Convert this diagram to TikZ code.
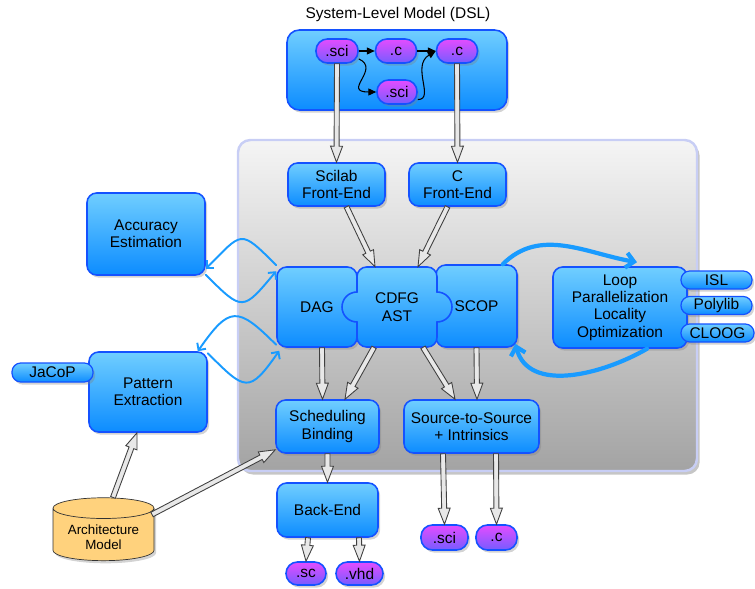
\documentclass[tikz,border=0pt]{standalone}
\usepackage{fontspec}
\setmainfont{Liberation Sans}
\usepackage{tikz}
\usetikzlibrary{shapes.geometric, arrows.meta, calc, shadows}

\definecolor{boxtop}{RGB}{112,206,255}
\definecolor{boxbot}{RGB}{12,140,255}
\definecolor{boxline}{RGB}{20,82,255}
\definecolor{pilltop}{RGB}{228,76,255}
\definecolor{pillbot}{RGB}{118,92,255}
\definecolor{panelline}{RGB}{200,206,245}
\definecolor{archfill}{RGB}{255,210,125}
\definecolor{curveblue}{RGB}{25,155,255}

\tikzset{
  block/.style={rectangle, draw=boxline, line width=0.9pt, top color=boxtop,
                bottom color=boxbot, rounded corners=5.5pt, align=center,
                font=\fontsize{8.8}{9.9}\selectfont, inner sep=1pt,
                drop shadow={opacity=0.35, shadow xshift=1.2pt, shadow yshift=-1.5pt}},
  piece/.style={draw=boxline, line width=0.9pt, top color=boxtop, bottom color=boxbot},
  pill/.style={block, top color=pilltop, bottom color=pillbot,
               rounded corners=6.5pt, minimum height=0.48cm},
  tab/.style={block, rounded corners=5pt, minimum height=0.36cm,
              line width=0.7pt, inner sep=0.5pt},
  garrow/.style={draw=black!75, fill=gray!18, line width=0.5pt, line join=miter},
  flow/.style={-{Triangle[length=4.5pt, width=4pt]}, line width=0.6pt, black},
  loopback/.style={-{Straight Barb[length=3pt, width=6pt]}, draw=curveblue,
                   line width=1.1pt, line cap=round},
  loopbackB/.style={-{Straight Barb[length=4.5pt, width=8.5pt]}, draw=curveblue,
                    line width=2.4pt, line cap=round},
}

% hollow gray connector, one outline from #1 to #2
\newcommand\hollowarrow[2]{%
  \coordinate (ha-s) at (#1);
  \coordinate (ha-e) at (#2);
  \coordinate (ha-b) at ($(ha-e)!0.32cm!(ha-s)$);
  \path[garrow] ($(ha-s)!0.05cm!90:(ha-e)$) -- ($(ha-b)!0.05cm!-90:(ha-s)$)
    -- ($(ha-b)!0.12cm!-90:(ha-s)$) -- (ha-e)
    -- ($(ha-b)!0.12cm!90:(ha-s)$) -- ($(ha-b)!0.05cm!90:(ha-s)$)
    -- ($(ha-s)!0.05cm!-90:(ha-e)$) -- cycle;}

\begin{document}
\begin{tikzpicture}[
  panel/.style={rectangle, draw=panelline, line width=1.4pt, top color=gray!8,
                bottom color=gray!72, rounded corners=7pt, minimum width=9.18cm,
                minimum height=6.62cm,
                drop shadow={opacity=0.45, shadow xshift=1.5pt, shadow yshift=-2pt}},
  arch/.style={cylinder, shape border rotate=90, draw=black!80, fill=archfill,
               aspect=0.25, minimum width=2.02cm, minimum height=1.0cm,
               align=center, font=\fontsize{7.6}{8.4}\selectfont,
               drop shadow={opacity=0.35, shadow xshift=1.2pt, shadow yshift=-1.5pt}},
  font=\fontsize{8.8}{9.9}\selectfont
]
\useasboundingbox (0,0) rectangle (15.1,-11.78);

% Background panel and system-level model
\node[panel] (panel) at (9.35,-6.11) {};
\node[block, minimum width=4.4cm, minimum height=1.6cm, rounded corners=7pt] (dsl) at (7.94,-1.40) {};
\node (title) at (7.96,-0.30) {System-Level Model (DSL)};
\node[pill, minimum width=0.84cm] (sciA) at (6.74,-1.02) {.sci};
\node[pill, minimum width=0.82cm] (cA)   at (7.92,-1.02) {.c};
\node[pill, minimum width=0.82cm] (cB)   at (9.14,-1.02) {.c};
\node[pill, minimum width=0.80cm] (sciB) at (7.94,-1.84) {.sci};

\draw[flow] (sciA) -- (cA);
\draw[flow] (cA) -- (cB);
\draw[flow] (sciA.-20) .. controls +(0.45,-0.2) and +(-0.7,0) .. (sciB.west);
\draw[flow] (sciB.-20) .. controls +(0.35,0) and +(-0.5,-0.3) .. (cB.west);

% Front-ends
\node[block, minimum width=1.94cm, minimum height=0.86cm] (scilab) at (6.73,-3.69) {Scilab\\Front-End};
\node[block, minimum width=1.94cm, minimum height=0.86cm] (cfe)    at (9.15,-3.69) {C\\Front-End};

% Intermediate representations
\node[block, minimum width=1.6cm, minimum height=1.6cm]  (dag)  at (6.34,-6.14) {DAG};
\node[block, minimum width=1.62cm, minimum height=1.64cm] (scop) at (9.53,-6.12) {SCOP};
\path[piece] (7.94,-5.34) [rounded corners=5.5pt] -- (8.74,-5.34) [sharp corners] -- (8.74,-5.84)
  arc[start angle=90, end angle=-90, radius=0.3] [rounded corners=5.5pt] -- (8.74,-6.94)
  -- (7.14,-6.94) [sharp corners] -- (7.14,-6.44)
  arc[start angle=-90, end angle=-270, radius=0.3] [rounded corners=5.5pt] -- (7.14,-5.34) -- cycle;
\node[minimum width=1.6cm, minimum height=1.6cm, align=center] (cdfg) at (7.94,-6.14) {CDFG\\AST};

% Polyhedral tools
\node[block, minimum width=2.68cm, minimum height=1.62cm] (loop) at (12.40,-6.15)
  {Loop\\Parallelization\\Locality\\Optimization};
\node[tab, minimum width=1.42cm] (isl)     at (14.33,-5.60) {ISL};
\node[tab, minimum width=1.42cm] (polylib) at (14.33,-6.11) {Polylib};
\node[tab, minimum width=1.46cm] (cloog)   at (14.35,-6.66) {CLOOG};

% Side tools
\node[block, minimum width=2.36cm, minimum height=1.64cm] (acc)     at (2.92,-4.68) {Accuracy\\Estimation};
\node[block, minimum width=2.36cm, minimum height=1.60cm] (pattern) at (2.96,-7.84) {Pattern\\Extraction};
\node[tab, minimum width=1.62cm, minimum height=0.38cm] (jacop) at (1.05,-7.45) {JaCoP};

% Back part
\node[block, minimum width=2.06cm, minimum height=1.06cm] (sched)   at (6.55,-8.53) {Scheduling\\Binding};
\node[block, minimum width=2.70cm, minimum height=1.06cm] (s2s)     at (9.43,-8.53) {Source-to-Source\\+ Intrinsics};
\node[block, minimum width=2.02cm, minimum height=1.08cm] (backend) at (6.55,-10.20) {Back-End};
\node[pill, minimum width=0.80cm, minimum height=0.46cm] (sc)  at (6.12,-11.47) {.sc};
\node[pill, minimum width=0.94cm, minimum height=0.46cm] (vhd) at (7.19,-11.47) {.vhd};
\node[pill, minimum width=0.94cm, minimum height=0.50cm] (sciC) at (8.89,-10.75) {.sci};
\node[pill, minimum width=0.82cm, minimum height=0.50cm] (cC)   at (9.93,-10.75) {.c};
\node[arch] (arch) at (2.07,-10.74) {Architecture\\Model};

% Feedback loops
\draw[loopback] ([yshift=0.02cm]dag.north west) to[out=135, in=45, looseness=1.9] ([yshift=0.14cm]acc.south east);
\draw[loopback] ([yshift=0.02cm]acc.south east) to[out=-45, in=-130, looseness=1.9] ([yshift=-0.1cm]dag.north west);
\draw[loopback] ([yshift=0.06cm]dag.south west) to[out=135, in=55, looseness=1.8] ([xshift=-0.2cm]pattern.north east);
\draw[loopback] ([yshift=-0.04cm]pattern.north east) to[out=-45, in=-125, looseness=1.9] ([xshift=0.06cm,yshift=-0.06cm]dag.south west);
\draw[loopbackB] ([xshift=-0.3cm]scop.north east) to[out=45, in=170] ([xshift=0.34cm,yshift=0.08cm]loop.north);
\draw[loopbackB] ([xshift=0.54cm]loop.south) to[out=-150, in=-75] ([xshift=-0.05cm,yshift=0.08cm]scop.south east);

% Hollow connectors
\hollowarrow{sciA.south}{scilab.north}
\hollowarrow{cB.south}{cfe.north}
\hollowarrow{[xshift=0.2cm]scilab.south}{[xshift=-0.44cm]cdfg.north}
\hollowarrow{[xshift=-0.2cm]cfe.south}{[xshift=0.42cm]cdfg.north}
\hollowarrow{[xshift=0.1cm]dag.south}{[xshift=-0.1cm]sched.north}
\hollowarrow{[xshift=-0.46cm]cdfg.south}{[xshift=0.35cm]sched.north}
\hollowarrow{[xshift=0.52cm]cdfg.south}{[xshift=-0.33cm]s2s.north}
\hollowarrow{scop.south}{[xshift=0.11cm]s2s.north}
\hollowarrow{sched.south}{backend.north}
\hollowarrow{[xshift=-0.39cm]backend.south}{sc.north}
\hollowarrow{[xshift=0.63cm]backend.south}{vhd.north}
\hollowarrow{[xshift=-0.57cm]s2s.south}{sciC.north}
\hollowarrow{[xshift=0.49cm]s2s.south}{cC.north}
\hollowarrow{[xshift=0.19cm]arch.north}{[xshift=-0.22cm]pattern.south}
\hollowarrow{[shift={(0.97,0.45)}]arch.center}{[yshift=0.08cm]sched.south west}

\end{tikzpicture}
\end{document}
